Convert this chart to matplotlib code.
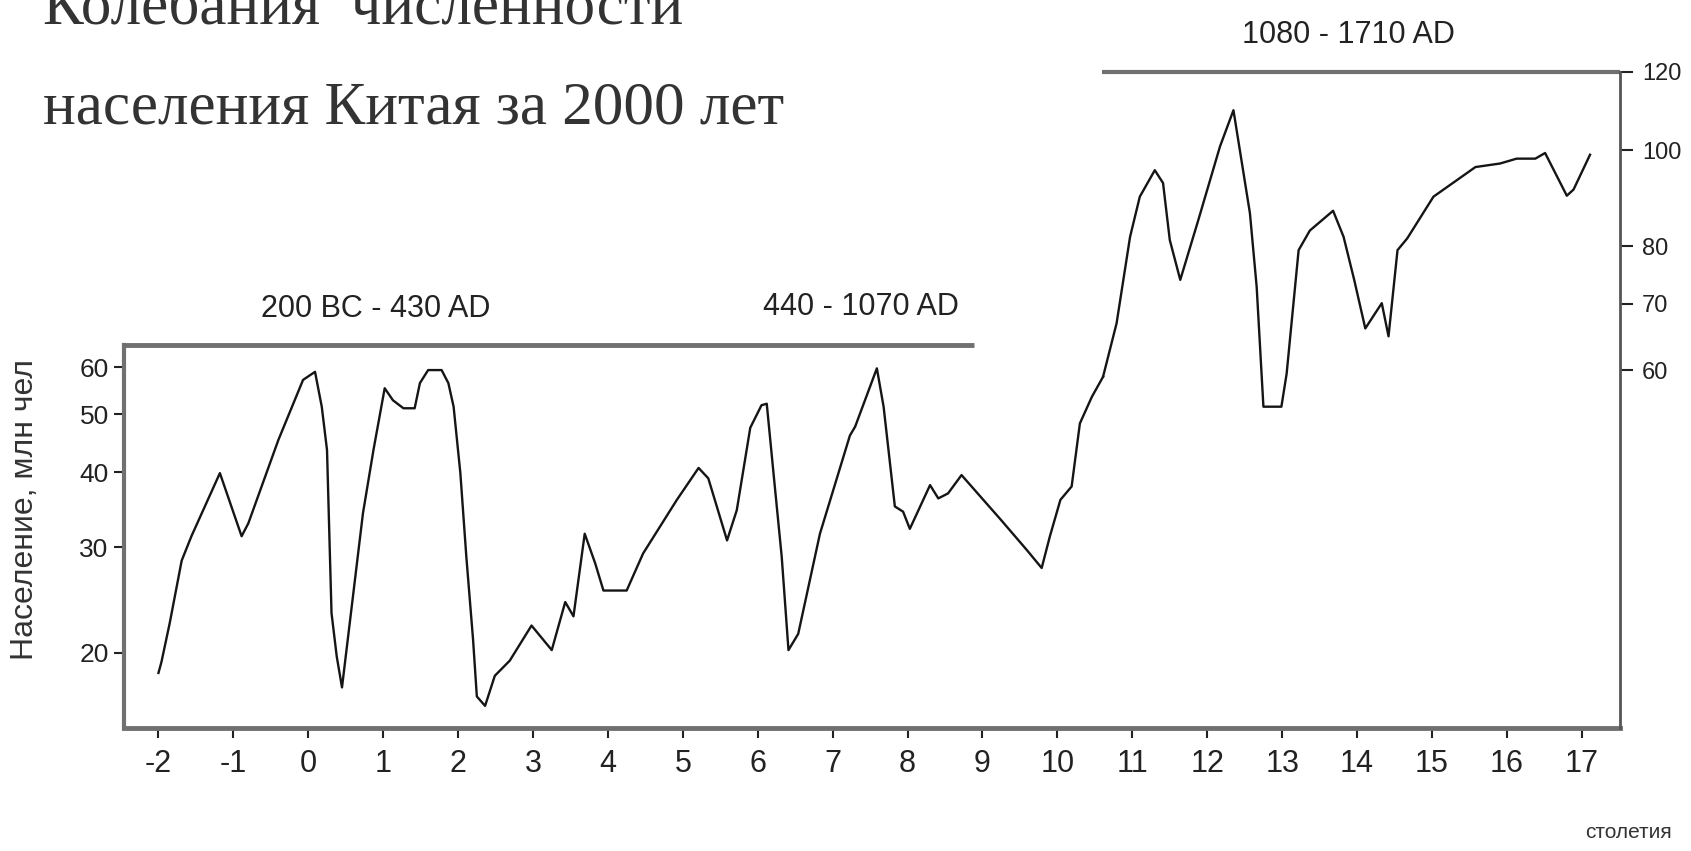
import matplotlib
matplotlib.use("Agg")
import matplotlib.pyplot as plt
from matplotlib.ticker import FixedLocator, NullLocator

# столетия / население (млн чел), 200 BC - 1070 AD, левая шкала
cent_a = [-2.00, -1.96, -1.85, -1.69, -1.56, -1.18, -0.89, -0.80, -0.40, -0.07,
          0.09, 0.18, 0.25, 0.31, 0.38, 0.45, 0.73, 0.87, 1.02, 1.13,
          1.27, 1.42, 1.49, 1.60, 1.78, 1.87, 1.94, 2.03, 2.11, 2.20,
          2.25, 2.36, 2.49, 2.69, 2.98, 3.25, 3.43, 3.54, 3.69, 3.83,
          3.94, 4.25, 4.47, 4.92, 5.21, 5.34, 5.59, 5.72, 5.90, 6.05,
          6.12, 6.21, 6.32, 6.41, 6.54, 6.83, 7.23, 7.30, 7.59, 7.68,
          7.83, 7.94, 8.03, 8.30, 8.41, 8.54, 8.72, 9.24, 9.59, 9.79,
          9.90, 9.95, 10.04, 10.19, 10.30, 10.46, 10.61]
pop_a = [18.5, 19.3, 22.4, 28.5, 31.3, 39.9, 31.3, 32.9, 45.3, 57.1,
         58.9, 51.5, 43.6, 23.3, 19.7, 17.5, 34.2, 43.6, 55.3, 52.8,
         51.2, 51.2, 56.4, 59.3, 59.3, 56.4, 51.5, 39.9, 28.9, 21.0,
         16.9, 16.3, 18.3, 19.4, 22.2, 20.2, 24.3, 23.0, 31.6, 28.2,
         25.4, 25.4, 29.3, 36.0, 40.7, 39.1, 30.8, 34.6, 47.5, 51.8,
         52.1, 39.9, 28.9, 20.2, 21.5, 31.6, 46.1, 47.7, 59.7, 51.5,
         35.1, 34.4, 32.2, 38.1, 36.2, 36.9, 39.6, 33.4, 29.7, 27.7,
         31.3, 32.9, 36.0, 37.9, 48.3, 53.5, 57.8]

# 1080 - 1710 AD, правая шкала
cent_b = [10.61, 10.79, 10.97, 11.10, 11.30, 11.41, 11.50, 11.64, 11.88, 12.17,
          12.35, 12.57, 12.66, 12.75, 12.99, 13.06, 13.22, 13.37, 13.68, 13.82,
          13.96, 14.11, 14.33, 14.42, 14.54, 14.67, 15.02, 15.58, 15.91, 16.13,
          16.38, 16.51, 16.80, 16.89, 17.11]
pop_b = [59.1, 66.9, 81.8, 89.8, 95.5, 92.7, 81.2, 74.0, 85.0, 100.9,
         109.8, 86.4, 72.8, 55.1, 55.1, 59.5, 79.3, 83.0, 86.9, 81.8,
         74.1, 66.1, 70.1, 64.9, 79.3, 81.5, 89.8, 96.2, 97.0, 98.1,
         98.1, 99.4, 90.0, 91.3, 99.0]

xticks = list(range(-2, 18))
left_ticks = [20, 30, 40, 50, 60]
right_ticks = [60, 70, 80, 100, 120]
periods = ["200 BC - 430 AD", "440 - 1070 AD", "1080 - 1710 AD"]

plt.rcParams["font.family"] = ["Liberation Sans", "DejaVu Sans"]

fig = plt.figure(figsize=(16.91, 8.51), dpi=100)
ax = fig.add_axes([124 / 1691, 1 - 728 / 851, 1496 / 1691, 656 / 851])
ax2 = ax.twinx()

ax.plot(cent_a, pop_a, color="#151515", lw=1.7)
ax2.plot(cent_b, pop_b, color="#151515", lw=1.7)

ax.set_xlim(-2.46, 17.51)
ax.set_yscale("log")
ax.set_ylim(14.97, 186.6)
ax2.set_yscale("log")
ax2.set_ylim(26.1, 120)

ax.set_xticks(xticks)
ax.set_xticklabels([str(t) for t in xticks])
ax.yaxis.set_major_locator(FixedLocator(left_ticks))
ax.yaxis.set_minor_locator(NullLocator())
ax.set_yticklabels([str(t) for t in left_ticks])
ax2.yaxis.set_major_locator(FixedLocator(right_ticks))
ax2.yaxis.set_minor_locator(NullLocator())
ax2.set_yticklabels([str(t) for t in right_ticks])

for a in (ax, ax2):
    a.spines["top"].set_visible(False)
ax.spines["right"].set_visible(False)
ax2.spines["left"].set_visible(False)
ax2.spines["bottom"].set_visible(False)
ax.spines["left"].set_bounds(14.97, 65.3)
ax.spines["left"].set_color("#707070")
ax.spines["left"].set_linewidth(3)
ax.spines["bottom"].set_color("#707070")
ax.spines["bottom"].set_linewidth(3.5)
ax2.spines["right"].set_color("#555555")
ax2.spines["right"].set_linewidth(2)

ax.tick_params(axis="x", direction="out", length=7, width=1.5, pad=8,
               labelsize=22, colors="#222222")
ax.tick_params(axis="y", direction="out", length=7, width=1.5, pad=4,
               labelsize=19, colors="#222222")
ax2.tick_params(axis="y", direction="out", length=9, width=1.5, pad=7,
                labelsize=17, colors="#222222")

# полосы периодов
ax.plot([-2.46, 8.89], [65.3, 65.3], color="#707070", lw=3.5,
        solid_capstyle="butt", clip_on=False)
ax2.plot([10.6, 17.51], [120, 120], color="#707070", lw=3,
         solid_capstyle="butt", clip_on=False)

ax.text(0.90, 75.0, periods[0], ha="center", va="center", fontsize=22, color="#222222")
ax.text(7.38, 75.6, periods[1], ha="center", va="center", fontsize=22, color="#222222")
ax2.text(13.88, 130.8, periods[2], ha="center", va="center", fontsize=22, color="#222222")

fig.text(25 / 1691, 1 - 509 / 851, "Население, млн чел", rotation=90,
         ha="center", va="center", fontsize=23, color="#333333")
fig.text(1628 / 1691, 1 - 833 / 851, "столетия", ha="center", va="center",
         fontsize=15, color="#333333")

serif = ["Liberation Serif", "DejaVu Serif"]
fig.text(43 / 1691, 1 - 24 / 851, "Колебания  численности", family=serif,
         fontsize=44, color="#333333", ha="left", va="baseline")
fig.text(43 / 1691, 1 - 124 / 851, "населения Китая за 2000 лет", family=serif,
         fontsize=44, color="#333333", ha="left", va="baseline")

fig.savefig("out.png", dpi=100)
